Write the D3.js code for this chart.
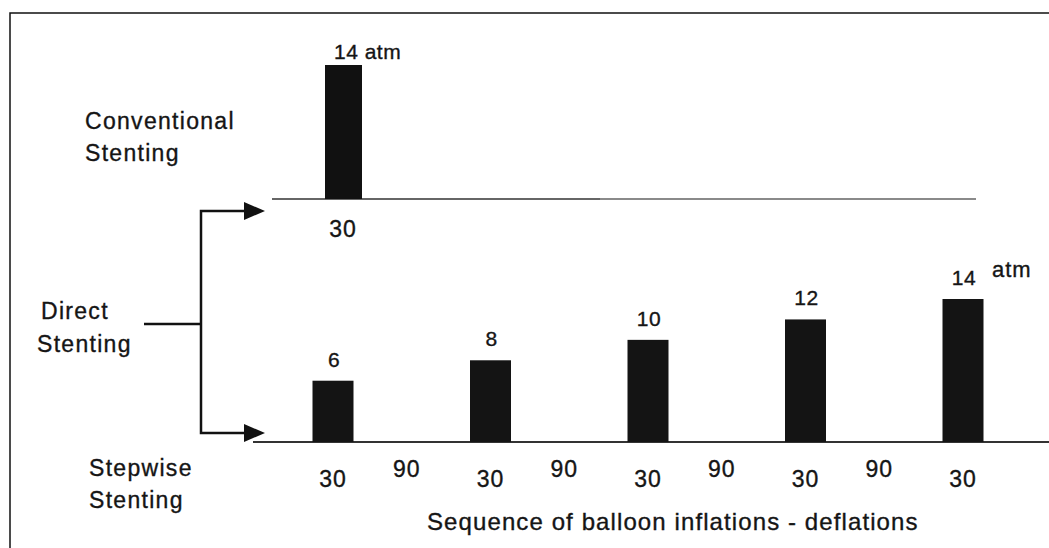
<!DOCTYPE html>
<html>
<head>
<meta charset="utf-8">
<script src="https://cdn.jsdelivr.net/npm/d3@7"></script>
<style>
  html, body { margin: 0; padding: 0; background: #fff; }
  svg { display: block; }
  text { font-family: "Liberation Sans", Arial, Helvetica, sans-serif; fill: #151515; stroke: #151515; stroke-width: 0.35px; }
</style>
</head>
<body>
<svg id="chart" width="1049" height="548"></svg>
<script>
// ---- data ----
const conventionalPressures = [14];           // atm
const conventionalDurations = ["30"];         // s
const stepwisePressures = [6, 8, 10, 12, 14]; // atm
const sequenceLabels = ["30", "90", "30", "90", "30", "90", "30", "90", "30"]; // inflation / deflation durations
const groupLabels = [["Conventional", "Stenting"], ["Direct", "Stenting"], ["Stepwise", "Stenting"]];
const unitLabel = "atm";
const xTitle = "Sequence of balloon inflations - deflations";

const svg = d3.select("#chart");
const W = 1049, H = 548;

// frame
svg.append("path").attr("d", `M10,${H} L10,13 L${W},13`)
  .attr("fill", "none").attr("stroke", "#111").attr("stroke-width", 1.5);

// ---- scales ----
const xSeq = d3.scalePoint().domain(d3.range(sequenceLabels.length)).range([333, 963]);
const ySteps = d3.scaleLinear().domain([0, 14]).range([442, 299]);
const xConv = d3.scalePoint().domain(d3.range(conventionalPressures.length)).range([343, 343]);
const yConv = d3.scaleLinear().domain([0, 14]).range([199, 65]);
const barW = 41;

// ---- conventional panel ----
svg.append("line").attr("x1", 272).attr("x2", 976).attr("y1", yConv(0)).attr("y2", yConv(0))
  .attr("stroke", "#8a8a8a").attr("stroke-width", 2);
svg.append("line").attr("x1", 272).attr("x2", 600).attr("y1", yConv(0)).attr("y2", yConv(0))
  .attr("stroke", "#666").attr("stroke-width", 2);

svg.selectAll(".convBar").data(conventionalPressures).join("rect")
  .attr("class", "convBar")
  .attr("x", (d, i) => xConv(i) - 18)
  .attr("width", 37)
  .attr("y", d => yConv(d))
  .attr("height", d => yConv(0) - yConv(d))
  .attr("fill", "#111");

svg.selectAll(".convVal").data(conventionalPressures).join("text")
  .attr("class", "convVal")
  .attr("x", (d, i) => xConv(i) - 9)
  .attr("y", d => yConv(d) - 6)
  .attr("font-size", 21).attr("letter-spacing", 0.5)
  .text(d => d + " " + unitLabel);

svg.selectAll(".convDur").data(conventionalDurations).join("text")
  .attr("class", "convDur")
  .attr("x", (d, i) => xConv(i))
  .attr("y", yConv(0) + 38)
  .attr("text-anchor", "middle")
  .attr("font-size", 23).attr("letter-spacing", 1)
  .text(d => d);

// ---- stepwise panel ----
svg.append("line").attr("x1", 253).attr("x2", W).attr("y1", ySteps(0)).attr("y2", ySteps(0))
  .attr("stroke", "#333").attr("stroke-width", 2);

const barIdx = stepwisePressures.map((d, i) => i * 2);
svg.selectAll(".stepBar").data(stepwisePressures).join("rect")
  .attr("class", "stepBar")
  .attr("x", (d, i) => xSeq(barIdx[i]) - barW / 2)
  .attr("width", barW)
  .attr("y", d => ySteps(d))
  .attr("height", d => ySteps(0) - ySteps(d))
  .attr("fill", "#141414");

svg.selectAll(".stepVal").data(stepwisePressures).join("text")
  .attr("class", "stepVal")
  .attr("x", (d, i) => xSeq(barIdx[i]) + 1)
  .attr("y", d => ySteps(d) - 14)
  .attr("text-anchor", "middle")
  .attr("font-size", 21).attr("letter-spacing", 0.5)
  .text(d => d);

svg.append("text")
  .attr("x", xSeq(barIdx[barIdx.length - 1]) + 29)
  .attr("y", ySteps(stepwisePressures[stepwisePressures.length - 1]) - 22)
  .attr("font-size", 22).attr("letter-spacing", 1)
  .text(unitLabel);

svg.selectAll(".seqLab").data(sequenceLabels).join("text")
  .attr("class", "seqLab")
  .attr("x", (d, i) => xSeq(i) + (d === "90" ? -5 : 0))
  .attr("y", d => ySteps(0) + (d === "90" ? 35 : 45))
  .attr("text-anchor", "middle")
  .attr("font-size", 23).attr("letter-spacing", 1)
  .text(d => d);

svg.append("text")
  .attr("x", 427).attr("y", 530)
  .attr("font-size", 24).attr("letter-spacing", 1.1)
  .text(xTitle);

// ---- group labels ----
const labelPos = [[85, 129, 161], [41, 319, 352], [89, 476, 508]];
groupLabels.forEach((lines, gi) => {
  const t = svg.append("text").attr("font-size", 23).attr("letter-spacing", 1.3);
  lines.forEach((ln, li) => {
    t.append("tspan").attr("x", labelPos[gi][0] - (gi === 1 && li === 1 ? 4 : 0))
      .attr("y", labelPos[gi][1 + li]).text(ln);
  });
});

// ---- branching arrows ----
const stemX = 201, tipX = 265;
const br = svg.append("g").attr("stroke", "#111").attr("stroke-width", 2.5).attr("fill", "none");
br.append("path").attr("d", `M144,324 L${stemX},324`);
br.append("path").attr("d", `M${tipX - 20},211 L${stemX},211 L${stemX},433 L${tipX - 20},433`);
[211, 433].forEach(yy => {
  svg.append("path")
    .attr("d", `M${tipX - 21},${yy - 9} L${tipX},${yy} L${tipX - 21},${yy + 9} Z`)
    .attr("fill", "#111");
});
</script>
</body>
</html>
